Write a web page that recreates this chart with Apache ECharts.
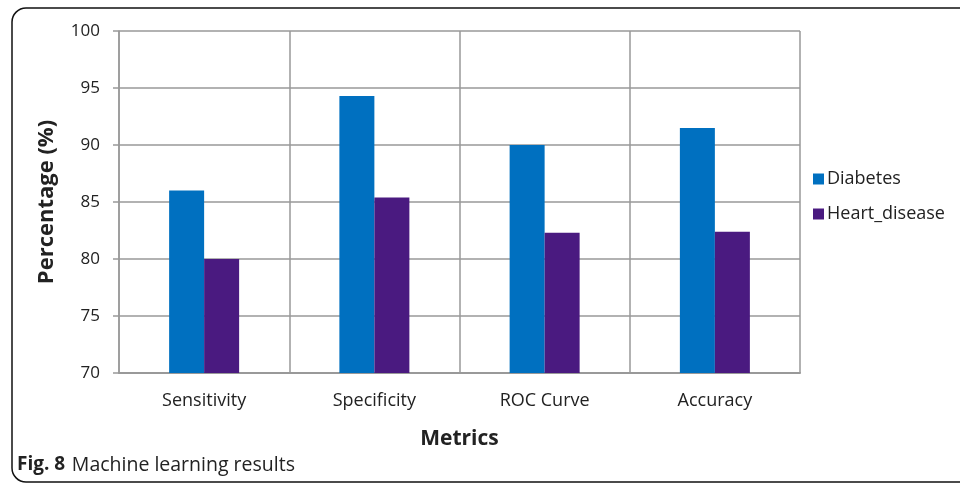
<!DOCTYPE html>
<html><head><meta charset="utf-8">
<script src="https://cdn.jsdelivr.net/npm/echarts@6/dist/echarts.min.js"></script>
<style>html,body{margin:0;padding:0;background:#fff}#c{width:960px;height:486px}</style>
</head><body><div id="c"></div>
<script>
const categories = ['Sensitivity', 'Specificity', 'ROC Curve', 'Accuracy'];
const diabetes = [86.0, 94.3, 90.0, 91.5];
const heartDisease = [80.0, 85.4, 82.3, 82.4];
const seriesNames = ['Diabetes', 'Heart_disease'];

const FONT = 'Open Sans';
const chart = echarts.init(document.getElementById('c'), null, {renderer: 'canvas'});
chart.setOption({
  animation: false,
  backgroundColor: '#fff',
  textStyle: {fontFamily: FONT},
  grid: {left: 119, right: 160, top: 31, bottom: 113, containLabel: false},
  legend: {
    orient: 'vertical', left: 808, top: 165, itemGap: 17,
    itemWidth: 11, itemHeight: 11, icon: 'rect',
    textStyle: {fontFamily: FONT, fontSize: 18, color: '#222', padding: [0,0,0,-2]},
    data: seriesNames
  },
  xAxis: {
    type: 'category', data: categories,
    name: 'Metrics', nameLocation: 'middle', nameGap: 56,
    nameTextStyle: {fontFamily: FONT, fontSize: 21, fontWeight: 'bold', color: '#222'},
    axisLine: {lineStyle: {color: '#999', width: 2}},
    axisTick: {show: false},
    splitLine: {show: true, lineStyle: {color: '#999', width: 1.5}},
    axisLabel: {fontFamily: FONT, fontSize: 18, color: '#222', margin: 19}
  },
  yAxis: {
    type: 'value', min: 70, max: 100, interval: 5,
    name: 'Percentage (%)', nameLocation: 'middle', nameGap: 61, nameRotate: 90,
    nameTextStyle: {fontFamily: FONT, fontSize: 22, fontWeight: 'bold', color: '#222'},
    axisLine: {show: true, lineStyle: {color: '#999', width: 1.5}},
    axisTick: {show: true, length: 6, lineStyle: {color: '#999', width: 1.5}},
    splitLine: {lineStyle: {color: '#999', width: 1.5}},
    axisLabel: {fontFamily: FONT, fontSize: 17, color: '#222', margin: 19}
  },
  series: [
    {name: seriesNames[0], type: 'bar', data: diabetes, barWidth: 35, barGap: '0%',
     itemStyle: {color: '#0070C0'}},
    {name: seriesNames[1], type: 'bar', data: heartDisease, barWidth: 35,
     itemStyle: {color: '#4A1A80'}}
  ],
  graphic: [
    {type: 'rect', shape: {x: 12, y: 8, width: 990, height: 474, r: 14},
     style: {fill: 'none', stroke: '#111', lineWidth: 1.5}, z: 100},
    {type: 'text', left: 17, top: 455, style: {
      rich: {b: {fontFamily: FONT, fontSize: 19, fontWeight: 'bold', fill: '#222'},
             n: {fontFamily: FONT, fontSize: 19.5, fill: '#222'}},
      text: '{b|Fig. 8}  {n|Machine learning results}'}}
  ]
});
</script></body></html>
